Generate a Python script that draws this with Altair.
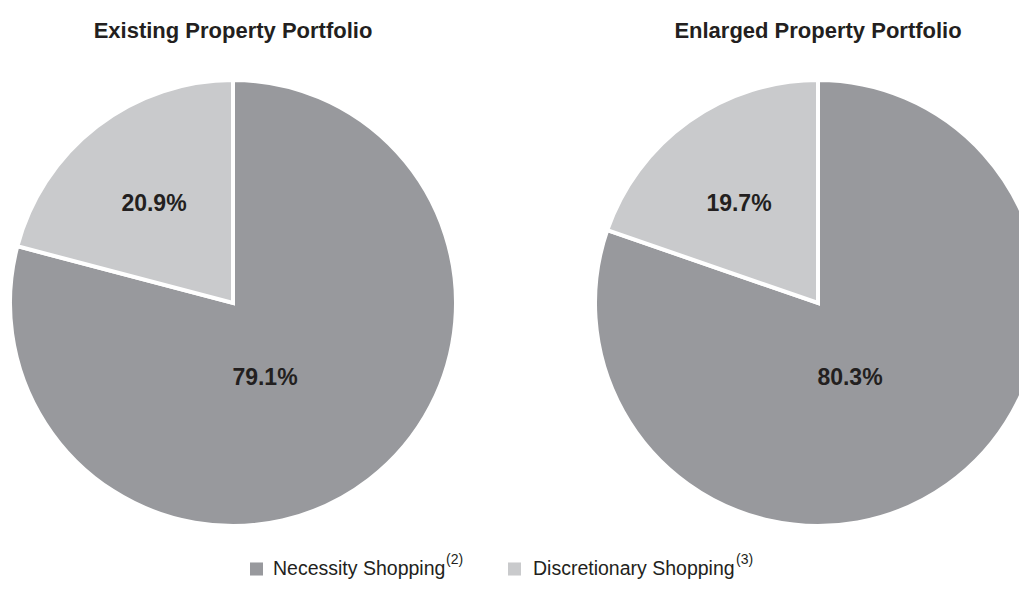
import altair as alt
import pandas as pd

portfolios = ["Existing Property Portfolio", "Enlarged Property Portfolio"]
categories = ["Necessity Shopping", "Discretionary Shopping"]
superscripts = ["(2)", "(3)"]
necessity = [79.1, 80.3]
discretionary = [20.9, 19.7]
colors = ["#98999d", "#c9cacc"]
text_color = "#231f20"
FONT = "Liberation Sans"

rows = []
for i, p in enumerate(portfolios):
    rows.append(dict(portfolio=p, category=categories[0], value=necessity[i], order=0,
                     label=f"{necessity[i]:.1f}%"))
    rows.append(dict(portfolio=p, category=categories[1], value=discretionary[i], order=1,
                     label=f"{discretionary[i]:.1f}%"))
df = pd.DataFrame(rows)
titles = pd.DataFrame({"portfolio": portfolios})

CX = [225, 810]
CY = 295
R = 223

x_enc = alt.X("portfolio:N",
              scale=alt.Scale(type="point", domain=portfolios, range=CX, padding=0),
              axis=None)

color_enc = alt.Color(
    "category:N",
    scale=alt.Scale(domain=categories, range=colors),
    legend=None,
)

base = alt.Chart(df)

pies = []
for p in portfolios:
    pies.append(
        base.transform_filter(alt.datum.portfolio == p)
        .mark_arc(radius=R, stroke="white", strokeWidth=4)
        .encode(
            x=x_enc,
            y=alt.value(CY),
            theta=alt.Theta("value:Q", stack=True),
            color=color_enc,
            order=alt.Order("order:Q"),
        )
    )

lab_disc = base.transform_filter(alt.datum.category == categories[1]).mark_text(
    font=FONT, fontSize=23, fontWeight="bold", color=text_color, dx=-79, dy=-99
).encode(x=x_enc, y=alt.value(CY), text="label:N")

lab_nec = base.transform_filter(alt.datum.category == categories[0]).mark_text(
    font=FONT, fontSize=23, fontWeight="bold", color=text_color, dx=32, dy=75
).encode(x=x_enc, y=alt.value(CY), text="label:N")

title_layer = alt.Chart(titles).mark_text(
    font=FONT, fontSize=22, fontWeight="bold", color=text_color
).encode(x=x_enc, y=alt.value(23), text="portfolio:N")

# Manual legend (squares, labels, superscript footnote markers)
LEG_Y = 561
sq_x = [248.5, 506.5]
lab_x = [265, 525]
sup_x = [438, 728]
legend_layers = []
for i, c in enumerate(categories):
    leg = pd.DataFrame({"category": [c], "name": [c], "sup": [superscripts[i]]})
    lb = alt.Chart(leg)
    legend_layers.append(
        lb.mark_square(size=170, opacity=1).encode(
            x=alt.value(sq_x[i]), y=alt.value(LEG_Y), color=color_enc
        )
    )
    legend_layers.append(
        lb.mark_text(font=FONT, fontSize=19.5, align="left", baseline="middle",
                     color=text_color).encode(
            x=alt.value(lab_x[i]), y=alt.value(LEG_Y), text="name:N"
        )
    )
    legend_layers.append(
        lb.mark_text(font=FONT, fontSize=14, align="left", baseline="middle",
                     color=text_color).encode(
            x=alt.value(sup_x[i]), y=alt.value(LEG_Y - 9), text="sup:N"
        )
    )

chart = alt.layer(*pies, lab_disc, lab_nec, title_layer, *legend_layers).properties(
    width=1011, height=592, autosize=alt.AutoSizeParams(type="none"), padding=0
).configure_view(stroke=None)

chart.save("out.html", embed_options={"renderer": "svg", "actions": False})
